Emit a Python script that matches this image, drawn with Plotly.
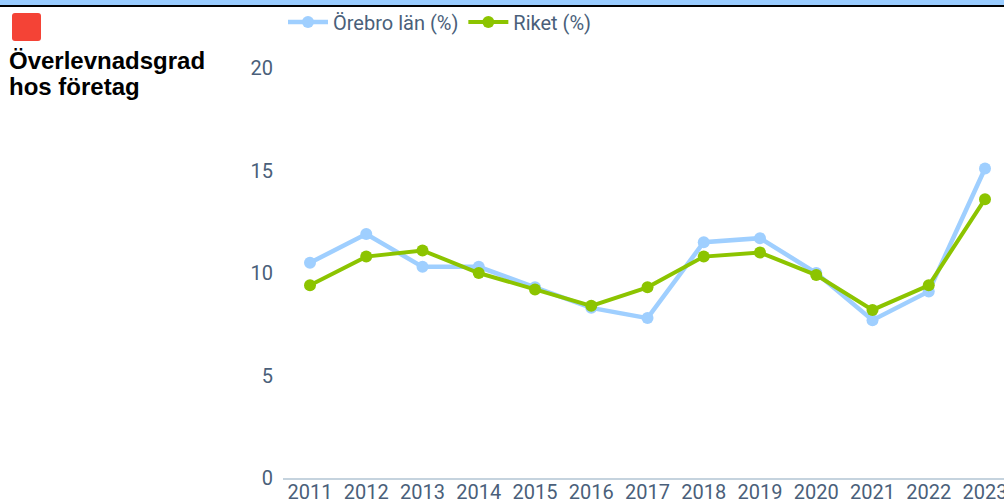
import plotly.graph_objects as go

years = [2011, 2012, 2013, 2014, 2015, 2016, 2017, 2018, 2019, 2020, 2021, 2022, 2023]
orebro = [10.5, 11.9, 10.3, 10.3, 9.3, 8.3, 7.8, 11.5, 11.7, 10.0, 7.7, 9.1, 15.1]
riket = [9.4, 10.8, 11.1, 10.0, 9.2, 8.4, 9.3, 10.8, 11.0, 9.9, 8.2, 9.4, 13.6]
series_names = ["Örebro län (%)", "Riket (%)"]
title_lines = ["Överlevnadsgrad", "hos företag"]

W, H = 1004, 499
L, R, T, B = 283, 0, 60, 21
pw, ph = W - L - R, H - T - B


def px(x):
    return (x - L) / pw


def py(y):
    return (H - B - y) / ph


fig = go.Figure()
fig.add_trace(go.Scatter(x=years, y=orebro, name=series_names[0], mode="lines+markers",
                         line=dict(color="#9fcfff", width=4.5),
                         marker=dict(color="#9fcfff", size=12)))
fig.add_trace(go.Scatter(x=years, y=riket, name=series_names[1], mode="lines+markers",
                         line=dict(color="#8cc400", width=4),
                         marker=dict(color="#8cc400", size=12)))

# top bands
fig.add_shape(type="rect", xref="paper", yref="paper", x0=px(0), x1=px(W), y0=py(5), y1=py(0),
              fillcolor="#99ccff", line_width=0, layer="above")
fig.add_shape(type="rect", xref="paper", yref="paper", x0=px(0), x1=px(W), y0=py(7), y1=py(5),
              fillcolor="#000000", line_width=0, layer="above")
# red square with rounded corners
x0, x1, y0, y1, r = px(12), px(41), py(41), py(13), 3
rx, ry = r / pw, r / ph
path = (f"M {x0+rx},{y1} L {x1-rx},{y1} Q {x1},{y1} {x1},{y1-ry} L {x1},{y0+ry} "
        f"Q {x1},{y0} {x1-rx},{y0} L {x0+rx},{y0} Q {x0},{y0} {x0},{y0+ry} "
        f"L {x0},{y1-ry} Q {x0},{y1} {x0+rx},{y1} Z")
fig.add_shape(type="path", xref="paper", yref="paper", path=path,
              fillcolor="#f44336", line_width=0)

for i, line in enumerate(title_lines):
    fig.add_annotation(xref="paper", yref="paper", x=px(7), y=py(60 + 27 * i),
                       xanchor="left", yanchor="middle",
                       text=f"<b>{line}</b>", showarrow=False, align="left",
                       font=dict(family="Liberation Sans, Arial", size=24, color="#000000"))

tick_font = dict(family="Roboto", size=20, color="#4a5f7a")

fig.update_layout(
    width=W, height=H,
    margin=dict(l=L, r=R, t=T, b=B, pad=0),
    plot_bgcolor="white", paper_bgcolor="white",
    font=tick_font,
    legend=dict(orientation="h", x=px(283), y=py(22), xanchor="left", yanchor="middle",
                font=tick_font, itemwidth=40, bgcolor="rgba(0,0,0,0)"),
    showlegend=True,
    xaxis=dict(range=[2011 - 27 / 56.25, 2023 + 19 / 56.25], tickmode="array", tickvals=years,
               ticktext=[str(y) for y in years], showgrid=False, zeroline=False,
               showline=True, linecolor="#c5d3de", linewidth=2, ticks="",
               automargin=False, ticklabeloverflow="allow", ticklabelstandoff=-5,
               tickfont=tick_font),
    yaxis=dict(range=[0, ph / 20.5], tickvals=[0, 5, 10, 15, 20], showgrid=False, zeroline=False,
               showline=False, ticks="", ticklabelstandoff=9, automargin=False,
               tickfont=tick_font),
)

fig.write_html("out.html", config={"displayModeBar": False},
               post_script="document.body.style.margin='0';document.body.style.overflow='hidden';")
